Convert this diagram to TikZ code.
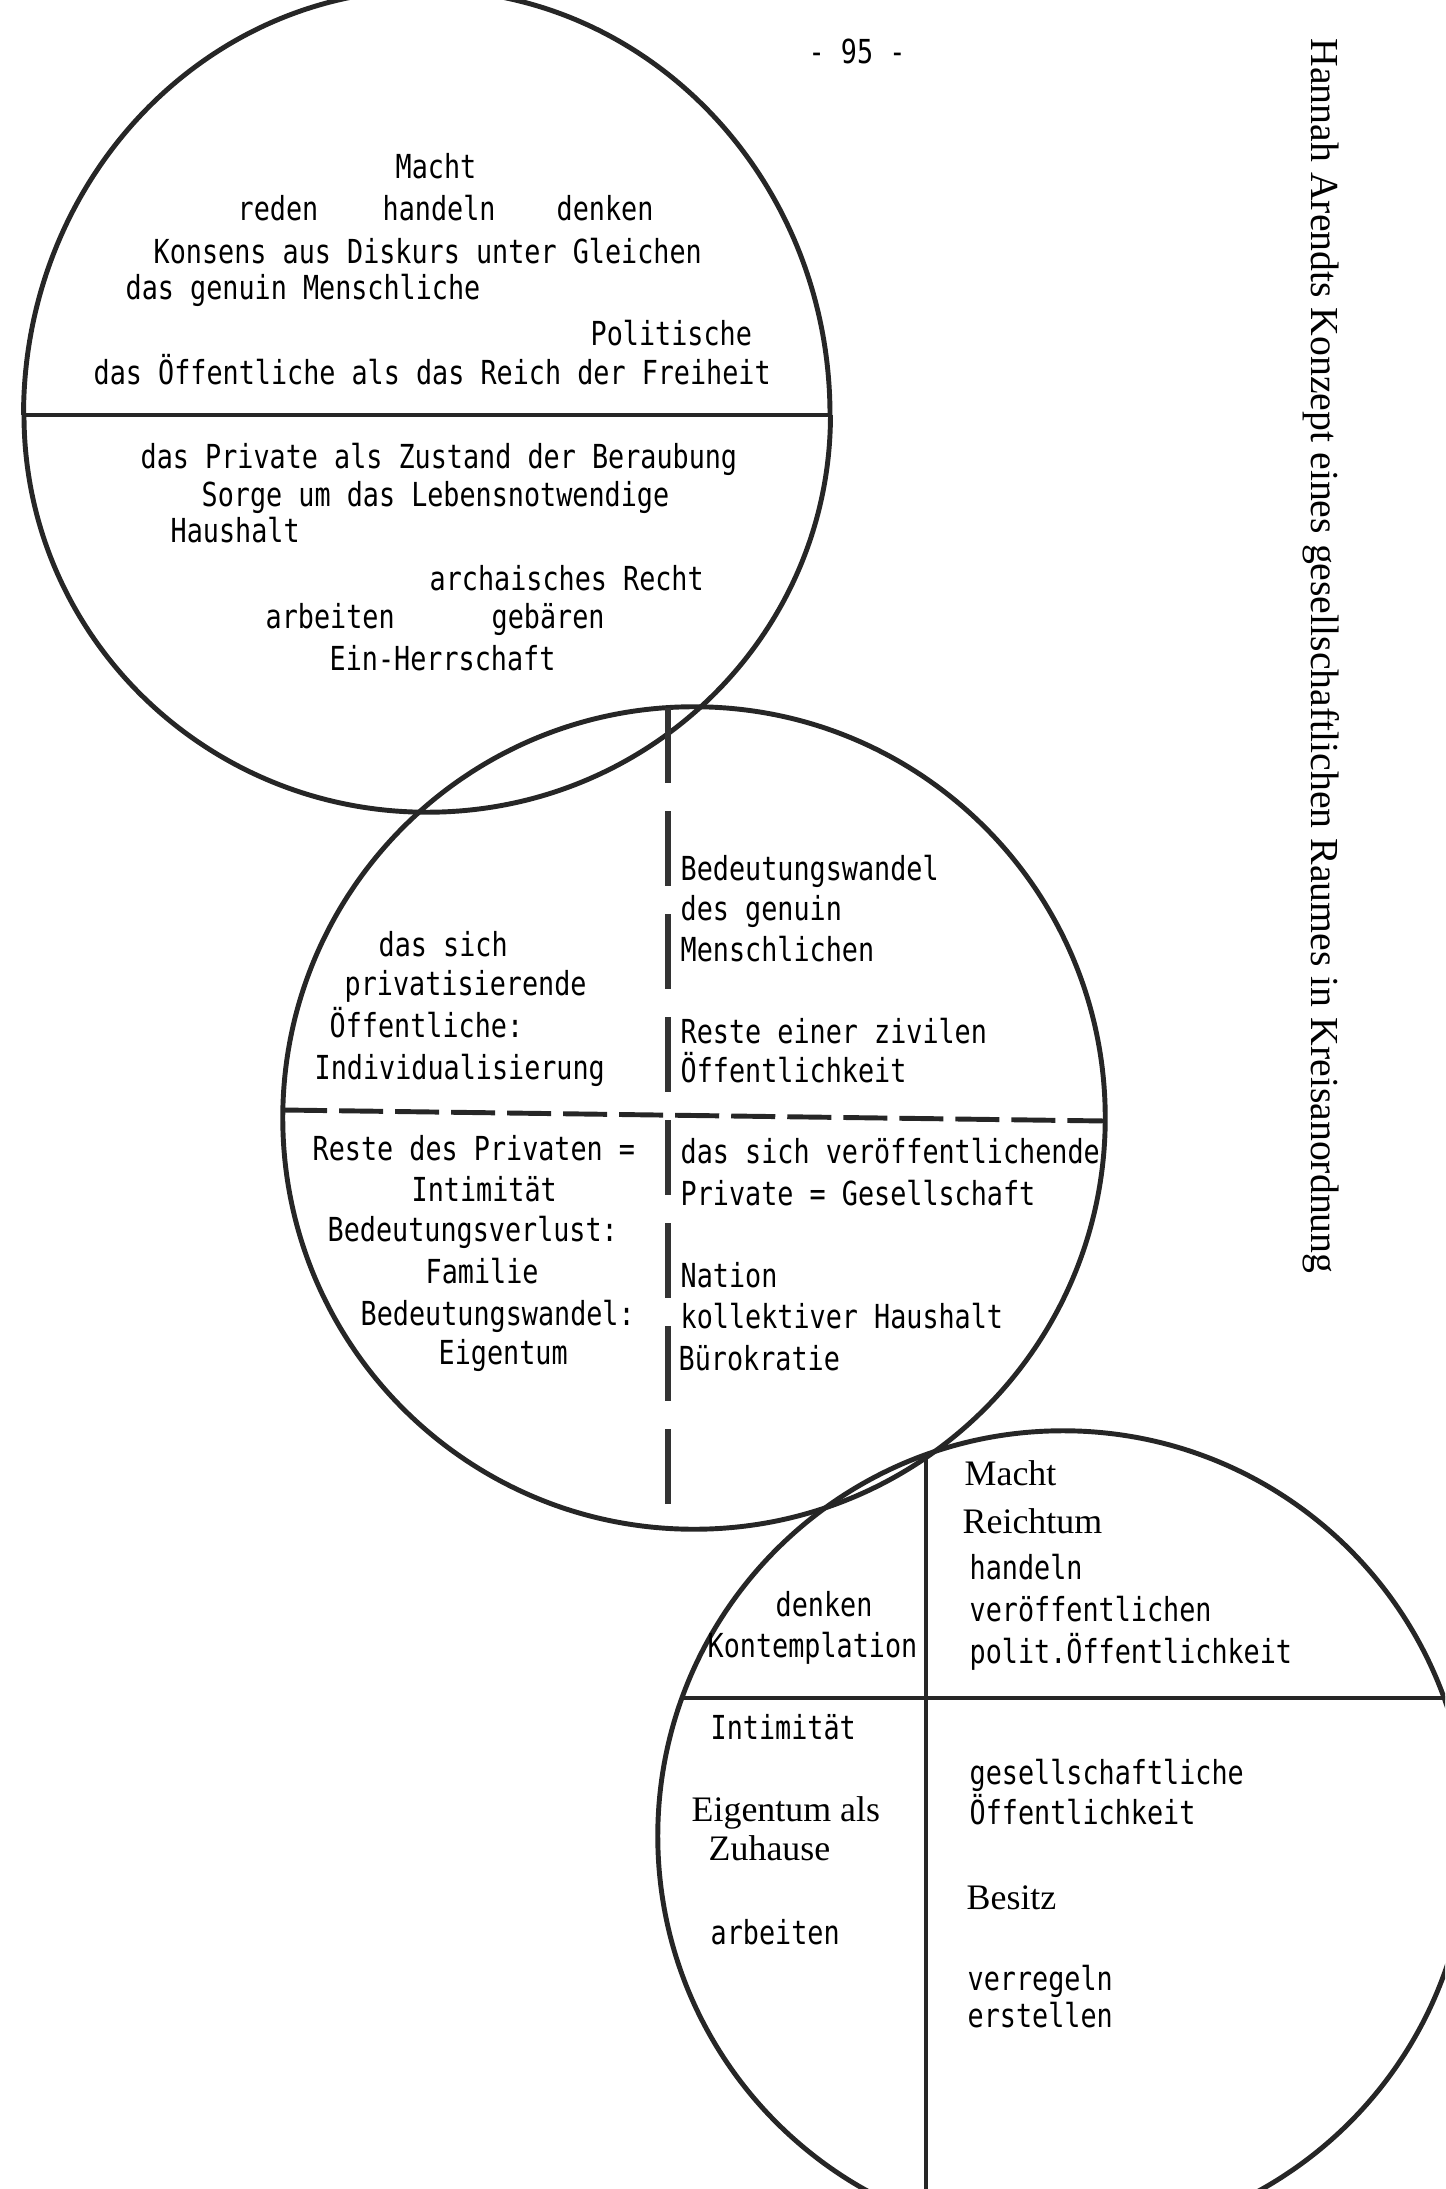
\documentclass[tikz,border=0pt]{standalone}
\usepackage{fontspec}
\newfontfamily\schreibm[FakeStretch=0.81]{DejaVu Sans Mono}
\newfontfamily\druckf{Liberation Serif}

\begin{document}
\begin{tikzpicture}[x=0.01cm,y=-0.01cm,
		kreis/.style={draw=black!85,line width=1.4pt},
		teiler/.style={draw=black!85,line width=1.4pt},
		strichh/.style={draw=black!85,line width=1.4pt,dash pattern=on 4.4mm off 1.2mm},
		strichv/.style={draw=black!80,line width=1.9pt,dash pattern=on 7.5mm off 2.8mm},
		sm/.style={inner sep=0pt,anchor=mid west,font=\schreibm\fontsize{9.4}{11}\selectfont},
		dr/.style={inner sep=0pt,anchor=mid west,font=\druckf\fontsize{10.2}{12}\selectfont}]
				\useasboundingbox (0,0) rectangle (1445,2189);
				\clip (0,0) rectangle (1445,2189);
				%
				\coordinate (kb) at (694,1118);
				\coordinate (kc) at (1063,1836);
				\coordinate (ka-w) at (24,415);
				\coordinate (ka-o) at (830,415);
				\coordinate (kb-w) at (283,1110);
				\coordinate (kb-o) at (1105,1121);
				\coordinate (kb-n) at (668,708);
				\coordinate (kb-s) at (668,1528);
				\coordinate (kc-w) at (682,1698);
				\coordinate (kc-o) at (1446,1698);
				\coordinate (kc-n) at (926,1455);
				\coordinate (kc-s) at (926,2217);
				%
				\draw[kreis] (ka-o) arc [start angle=0,end angle=180,x radius=4.03cm,y radius=4.25cm];
				\draw[kreis] (ka-w) arc [start angle=180,end angle=360,x radius=4.03cm,y radius=3.97cm];
				\draw[kreis] (kb) circle [radius=4.11cm];
				\draw[kreis] (kc) circle [radius=4.05cm];
				\draw[teiler] (ka-w) -- (ka-o);
				\draw[strichh] (kb-w) -- (kb-o);
				\draw[strichv] (kb-n) -- (kb-s);
				\draw[teiler] (kc-w) -- (kc-o);
				\draw[teiler] (kc-n) -- (kc-s);
				%
				\node[sm,anchor=mid] (s) at (857,56) {- 95 -};
				\node[inner sep=0pt,rotate=-90,font=\druckf\fontsize{11.3}{13}\selectfont] (titel) at (1321,656) {Hannah Arendts Konzept eines gesellschaftlichen Raumes in Kreisanordnung};
				%
				\node[sm] (a0) at (395,171) {Macht};
				\node[sm] (a1) at (237,213) {reden};
				\node[sm] (a2) at (382,213) {handeln};
				\node[sm] (a3) at (556,213) {denken};
				\node[sm] (a4) at (153,256) {Konsens aus Diskurs unter Gleichen};
				\node[sm] (a5) at (125,292) {das genuin Menschliche};
				\node[sm] (a6) at (590,338) {Politische};
				\node[sm] (a7) at (93,377) {das Öffentliche als das Reich der Freiheit};
				\node[sm] (a8) at (140,461) {das Private als Zustand der Beraubung};
				\node[sm] (a9) at (201,499) {Sorge um das Lebensnotwendige};
				\node[sm] (a10) at (170,535) {Haushalt};
				\node[sm] (a11) at (429,583) {archaisches Recht};
				\node[sm] (a12) at (265,621) {arbeiten};
				\node[sm] (a13) at (491,621) {gebären};
				\node[sm] (a14) at (329,663) {Ein-Herrschaft};
				%
				\node[sm] (b0) at (378,949) {das sich};
				\node[sm] (b1) at (344,988) {privatisierende};
				\node[sm] (b2) at (329,1030) {Öffentliche:};
				\node[sm] (b3) at (314,1072) {Individualisierung};
				\node[sm] (b4) at (312,1153) {Reste des Privaten =};
				\node[sm] (b5) at (411,1194) {Intimität};
				\node[sm] (b6) at (327,1234) {Bedeutungsverlust:};
				\node[sm] (b7) at (425,1276) {Familie};
				\node[sm] (b8) at (360,1318) {Bedeutungswandel:};
				\node[sm] (b9) at (438,1357) {Eigentum};
				\node[sm] (b10) at (680,873) {Bedeutungswandel};
				\node[sm] (b11) at (680,913) {des genuin};
				\node[sm] (b12) at (680,954) {Menschlichen};
				\node[sm] (b13) at (680,1036) {Reste einer zivilen};
				\node[sm] (b14) at (680,1075) {Öffentlichkeit};
				\node[sm] (b15) at (680,1156) {das sich veröffentlichende};
				\node[sm] (b16) at (680,1198) {Private = Gesellschaft};
				\node[sm] (b17) at (680,1280) {Nation};
				\node[sm] (b18) at (680,1321) {kollektiver Haushalt};
				\node[sm] (b19) at (678,1363) {Bürokratie};
				%
				\node[sm] (c0) at (775,1609) {denken};
				\node[sm] (c1) at (707,1650) {Kontemplation};
				\node[sm] (c2) at (710,1732) {Intimität};
				\node[dr] (c3) at (691,1814) {Eigentum als};
				\node[dr] (c4) at (708,1853) {Zuhause};
				\node[sm] (c5) at (710,1937) {arbeiten};
				\node[dr] (c6) at (964,1478) {Macht};
				\node[dr] (c7) at (962,1526) {Reichtum};
				\node[sm] (c8) at (969,1572) {handeln};
				\node[sm] (c9) at (969,1614) {veröffentlichen};
				\node[sm] (c10) at (969,1656) {polit.Öffentlichkeit};
				\node[sm] (c11) at (969,1777) {gesellschaftliche};
				\node[sm] (c12) at (969,1817) {Öffentlichkeit};
				\node[dr] (c13) at (966,1902) {Besitz};
				\node[sm] (c14) at (967,1983) {verregeln};
				\node[sm] (c15) at (967,2020) {erstellen};
				%
			\end{tikzpicture}
\end{document}
